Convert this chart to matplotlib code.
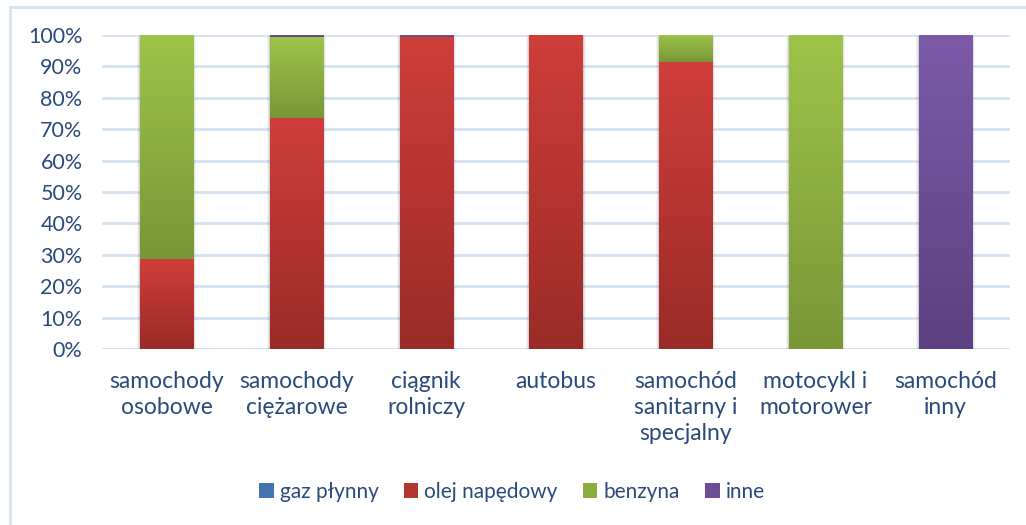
import matplotlib
matplotlib.use('Agg')
import matplotlib.pyplot as plt
import numpy as np
from matplotlib.colors import LinearSegmentedColormap
from matplotlib.lines import Line2D
from matplotlib.patches import Rectangle

plt.rcParams['font.family'] = ['Lato', 'DejaVu Sans']

# ── Data ──────────────────────────────────────────────────────────────────
categories = ['samochody\nosobowe', 'samochody\nciężarowe', 'ciągnik\nrolniczy',
              'autobus', 'samochód\nsanitarny i\nspecjalny', 'motocykl i\nmotorower',
              'samochód\ninny']
series = ['gaz płynny', 'olej napędowy', 'benzyna', 'inne']
gaz = [0.0, 0.0, 0.0, 0.0, 0.0, 0.0, 0.0]
olej = [28.6, 73.6, 99.4, 100.0, 91.4, 0.0, 0.0]
benzyna = [71.4, 25.7, 0.0, 0.0, 8.6, 100.0, 0.0]
inne = [0.0, 0.7, 0.6, 0.0, 0.0, 0.0, 100.0]
yticks = [0, 10, 20, 30, 40, 50, 60, 70, 80, 90, 100]

# ── Styles ────────────────────────────────────────────────────────────────
grads = [('#4F86C6', '#386197'),
         ('#CF3E3A', '#9A2B28'),
         ('#9EC44A', '#789737'),
         ('#7C5AA8', '#5D4080')]
txt_c = '#2A4A7C'
grid_c = '#D6E2F1'

fig = plt.figure(figsize=(10.26, 5.25), dpi=100)
ax = fig.add_axes([102/1026, 1-349/525, 908/1026, 314/525])

x = np.arange(len(categories))
w = 0.41
values = [gaz, olej, benzyna, inne]
bottom = np.zeros(len(categories))

# soft shadow behind each full bar
for xi in x:
    for k, a in zip([3, 2, 1], [0.04, 0.06, 0.09]):
        ax.add_patch(Rectangle((xi - w/2 - k*0.0077, -k*0.32),
                               w + 2*k*0.0077, 100 + k*0.16,
                               facecolor='black', edgecolor='none', alpha=a, zorder=1))

grad_img = np.linspace(0, 1, 256).reshape(-1, 1)
handles = []
for vals, name, (top, bot) in zip(values, series, grads):
    bars = ax.bar(x, vals, w, bottom=bottom, color=top, edgecolor='none',
                  label=name, zorder=2)
    cmap = LinearSegmentedColormap.from_list(name, [bot, top])
    for p in bars.patches:
        if p.get_height() <= 0:
            continue
        bx, by = p.get_x(), p.get_y()
        ax.imshow(grad_img, cmap=cmap, origin='lower', aspect='auto',
                  extent=(bx, bx + p.get_width(), by, by + p.get_height()),
                  zorder=3, interpolation='bilinear')
    handles.append(Rectangle((0, 0), 1, 1, facecolor=cmap(0.5), edgecolor='none'))
    bottom += np.array(vals)

ax.set_xlim(-0.5, len(categories) - 0.5)
ax.set_ylim(0, 100)
ax.set_yticks(yticks)
ax.set_yticklabels([f'{t}%' for t in yticks])
ax.set_xticks(x)
ax.set_xticklabels(categories, linespacing=1.3)
ax.tick_params(axis='y', length=0, pad=14, labelsize=15.5, labelcolor=txt_c)
ax.tick_params(axis='x', length=0, pad=16, labelsize=16.5, labelcolor=txt_c)
ax.yaxis.grid(True, color=grid_c, linewidth=2)
ax.set_axisbelow(True)
for s in ax.spines.values():
    s.set_visible(False)
ax.axhline(0, color=grid_c, linewidth=2, zorder=0.5)

# legend
fig.legend(handles, series, loc='center', bbox_to_anchor=(512/1026, 1-492/525),
           ncol=4, frameon=False, fontsize=15, handlelength=0.7, handleheight=0.7,
           handletextpad=0.3, columnspacing=1.2, labelcolor=txt_c)

# chart frame (left and top edges visible)
fig.add_artist(Line2D([10/1026, 10/1026], [0, 1-7/525], color=grid_c, lw=2,
                      transform=fig.transFigure))
fig.add_artist(Line2D([10/1026, 1], [1-7/525, 1-7/525], color=grid_c, lw=2,
                      transform=fig.transFigure))

fig.savefig('out.png', dpi=100, facecolor='white')
